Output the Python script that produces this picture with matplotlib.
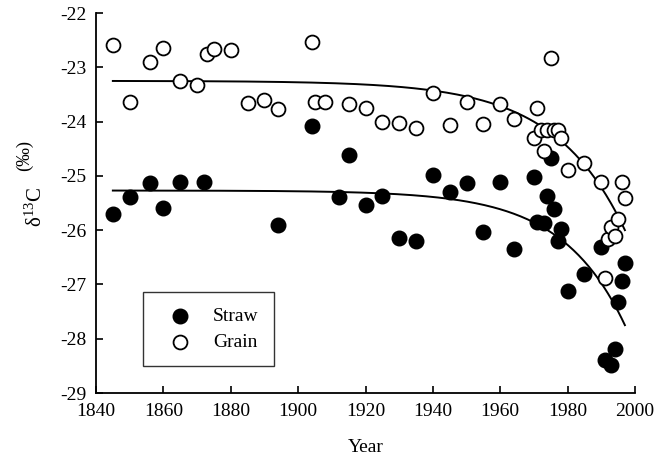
import numpy as np
import matplotlib
matplotlib.use("Agg")
import matplotlib.pyplot as plt

plt.rcParams['font.family'] = ['Liberation Serif', 'DejaVu Serif']
plt.rcParams['axes.unicode_minus'] = False
plt.rcParams['mathtext.fontset'] = 'custom'
plt.rcParams['mathtext.rm'] = 'Liberation Serif'

grain_years = [1845, 1850, 1856, 1860, 1865, 1870, 1873, 1875, 1880, 1885, 1890, 1894,
               1904, 1905, 1908, 1915, 1920, 1925, 1930, 1935, 1940, 1945, 1950, 1955,
               1960, 1964, 1970, 1971, 1972, 1973, 1974, 1975, 1976, 1977, 1978, 1980,
               1985, 1990, 1991, 1992, 1993, 1994, 1995, 1996, 1997]
grain_d13c = [-22.59, -23.64, -22.90, -22.65, -23.25, -23.33, -22.76, -22.67, -22.69, -23.66,
              -23.61, -23.77, -22.54, -23.64, -23.64, -23.68, -23.75, -24.00, -24.02, -24.12,
              -23.47, -24.06, -23.64, -24.05, -23.68, -23.96, -24.30, -23.75, -24.15, -24.54,
              -24.15, -22.83, -24.15, -24.15, -24.30, -24.89, -24.76, -25.11, -26.88, -26.16,
              -25.94, -26.10, -25.80, -25.11, -25.41]

straw_years = [1845, 1850, 1856, 1860, 1865, 1872, 1894, 1904, 1912, 1915, 1920, 1925,
               1930, 1935, 1940, 1945, 1950, 1955, 1960, 1964, 1970, 1971, 1973, 1974,
               1975, 1976, 1977, 1978, 1980, 1985, 1990, 1991, 1993, 1994, 1995, 1996, 1997]
straw_d13c = [-25.70, -25.39, -25.13, -25.60, -25.11, -25.11, -25.90, -24.08, -25.39, -24.62,
              -25.54, -25.37, -26.15, -26.20, -24.98, -25.30, -25.14, -26.03, -25.11, -26.35,
              -25.03, -25.85, -25.87, -25.37, -24.67, -25.61, -26.20, -25.98, -27.12, -26.81,
              -26.31, -28.39, -28.48, -28.19, -27.32, -26.94, -26.60]

# fitted curves: y = a - b*exp(c*(t - t_end))
grain_fit = (-23.25, 2.75, 0.048)
straw_fit = (-25.27, 2.48, 0.0533)
fit_start, fit_end = 1845, 1997

x_ticks = [1840, 1860, 1880, 1900, 1920, 1940, 1960, 1980, 2000]
y_ticks = [-29, -28, -27, -26, -25, -24, -23, -22]

fig = plt.figure(figsize=(6.69, 4.66), dpi=100)
ax = fig.add_axes([96/669, 1-393/466, (635-96)/669, (393-13)/466])

t = np.linspace(fit_start, fit_end, 300)
for a, b, c in (grain_fit, straw_fit):
    ax.plot(t, a - b*np.exp(c*(t - fit_end)), color='black', lw=1.4, zorder=2)

ax.scatter(straw_years, straw_d13c, s=110, facecolor='black', edgecolor='black',
           linewidths=1.0, zorder=3, label='Straw')
ax.scatter(grain_years, grain_d13c, s=100, facecolor='white', edgecolor='black',
           linewidths=1.3, zorder=4, label='Grain')

ax.set_xlim(1840, 2000)
ax.set_ylim(-29, -22)
ax.set_xticks(x_ticks)
ax.set_yticks(y_ticks)
ax.set_yticklabels([str(v) for v in y_ticks])
ax.tick_params(direction='in', length=5, width=1.2, labelsize=14, colors='black', pad=7)
for s in ('top', 'right'):
    ax.spines[s].set_visible(False)
for s in ('left', 'bottom'):
    ax.spines[s].set_linewidth(1.3)

fig.text(366/669, 1-447/466, 'Year', ha='center', va='center', fontsize=14)
fig.text(36/669, 1-207/466, r'$\mathrm{\delta^{13}C}$', rotation=90, ha='center', va='center', fontsize=15)
fig.text(24/669, 1-155/466, '(‰)', rotation=90, ha='center', va='center', fontsize=13.5)

leg = ax.legend(loc='upper left', bbox_to_anchor=(143/669, 1-292/466),
                bbox_transform=fig.transFigure, borderaxespad=0, frameon=True,
                fancybox=False, edgecolor='black', fontsize=14, handletextpad=0.63,
                borderpad=0.78, labelspacing=0.45, handlelength=2.2, scatterpoints=1)
leg.get_frame().set_linewidth(1.0)

fig.savefig('out.png', dpi=100)
